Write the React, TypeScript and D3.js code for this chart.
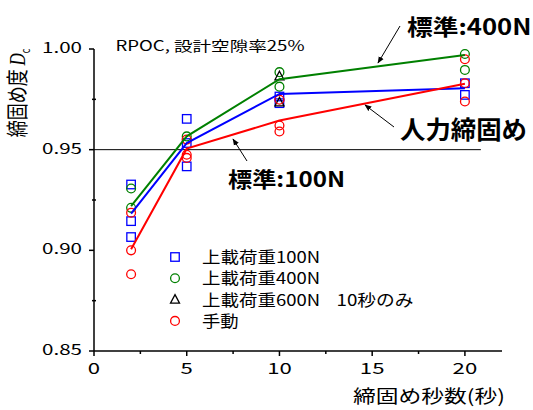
import React from "react";
import * as d3 from "d3";

// ---- data ----
const xTicks = [0, 5, 10, 15, 20];
const yTicks = [0.85, 0.9, 0.95, 1.0];
const meanX = [2, 5, 10, 20];
const blueMean = [0.9182, 0.9533, 0.9777, 0.9805];
const greenMean = [0.922, 0.9566, 0.985, 0.997];
const redMean = [0.9005, 0.9505, 0.9645, 0.9827];

const blueX = [2, 2, 2, 5, 5, 5, 10, 10, 20, 20];
const blueY = [0.9327, 0.9145, 0.9066, 0.9653, 0.9533, 0.9417, 0.9764, 0.9731, 0.983, 0.9772];
const greenX = [2, 2, 5, 10, 10, 20, 20];
const greenY = [0.9307, 0.9211, 0.9566, 0.9885, 0.9813, 0.9975, 0.9896];
const triX = [10, 10];
const triY = [0.9865, 0.9735];
const redX = [2, 2, 2, 5, 5, 5, 10, 10, 10, 20, 20, 20];
const redY = [0.9187, 0.9, 0.8881, 0.955, 0.9475, 0.9459, 0.9748, 0.962, 0.959, 0.9949, 0.983, 0.9739];

const legendLabels = ["上載荷重100N", "上載荷重400N", "上載荷重600N", "手動"];
const legendNote = "10秒のみ";

const FONT = "'Noto Sans CJK JP', 'Noto Sans', sans-serif";

export default function App() {
  const x = d3.scaleLinear().domain([0, 22]).range([94, 502]);
  const y = d3.scaleLinear().domain([0.85, 1.0]).range([351, 49]);
  const line = d3
    .line<[number, number]>()
    .x((d) => x(d[0]))
    .y((d) => y(d[1]));
  const mk = (vals: number[]) => meanX.map((v, i) => [v, vals[i]] as [number, number]);
  const xMinor = d3.range(2.5, 22, 5);
  const yMinor = [0.875, 0.925, 0.975];

  const sq = 8.5;
  const r = 4.4;
  const tri = (cx: number, cy: number, s = 9) =>
    `M${cx},${cy - s * 0.55} L${cx + s / 2},${cy + s * 0.4} L${cx - s / 2},${cy + s * 0.4} Z`;

  return (
    <svg
      width={533}
      height={410}
      style={{ position: "absolute", left: 0, top: 0, background: "#fff", fontFamily: FONT }}
    >
      <defs>
        <marker id="ah" viewBox="0 0 10 10" refX="9" refY="5" markerWidth="7" markerHeight="7" orient="auto">
          <path d="M0,1 L10,5 L0,9 Z" fill="#000" />
        </marker>
      </defs>
      <rect width={533} height={410} fill="#fff" />

      {/* axes */}
      <line x1={x(0)} x2={x(22)} y1={y(0.85)} y2={y(0.85)} stroke="#000" strokeWidth={1.5} />
      <line x1={x(0)} x2={x(0)} y1={y(0.85)} y2={y(1.0)} stroke="#000" strokeWidth={1.5} />
      {xTicks.map((t) => (
        <g key={"xt" + t}>
          <line x1={x(t)} x2={x(t)} y1={y(0.85)} y2={y(0.85) + 5} stroke="#000" strokeWidth={1.5} />
          <text
            x={x(t) - (String(t).length * 12.3) / 2}
            y={373.5}
            fontSize={15.5}
            fill="#000"
            textLength={String(t).length * 12.3}
            lengthAdjust="spacingAndGlyphs"
          >
            {t}
          </text>
        </g>
      ))}
      {xMinor.map((t) => (
        <line key={"xm" + t} x1={x(t)} x2={x(t)} y1={y(0.85)} y2={y(0.85) + 3} stroke="#000" strokeWidth={1.5} />
      ))}
      {yTicks.map((t) => (
        <g key={"yt" + t}>
          <line x1={x(0) - 5} x2={x(0)} y1={y(t)} y2={y(t)} stroke="#000" strokeWidth={1.5} />
          <text x={42} y={y(t) + 4} fontSize={14.5} fill="#000" textLength={40} lengthAdjust="spacingAndGlyphs">
            {t.toFixed(2)}
          </text>
        </g>
      ))}
      {yMinor.map((t) => (
        <line key={"ym" + t} x1={x(0) - 2} x2={x(0) + 2} y1={y(t)} y2={y(t)} stroke="#000" strokeWidth={1.5} />
      ))}

      {/* reference line */}
      <line x1={x(0)} x2={x(20.86)} y1={y(0.95)} y2={y(0.95)} stroke="#000" strokeWidth={1} />

      {/* markers */}
      {blueX.map((v, i) => (
        <rect key={"b" + i} x={x(v) - sq / 2} y={y(blueY[i]) - sq / 2} width={sq} height={sq} fill="none" stroke="#0000ff" strokeWidth={1.3} />
      ))}
      {greenX.map((v, i) => (
        <circle key={"g" + i} cx={x(v)} cy={y(greenY[i])} r={r} fill="none" stroke="#008000" strokeWidth={1.3} />
      ))}
      {triX.map((v, i) => (
        <path key={"t" + i} d={tri(x(v), y(triY[i]))} fill="none" stroke="#000" strokeWidth={1.3} />
      ))}
      {redX.map((v, i) => (
        <circle key={"r" + i} cx={x(v)} cy={y(redY[i])} r={r} fill="none" stroke="#ff0000" strokeWidth={1.3} />
      ))}

      {/* mean lines */}
      <path d={line(mk(greenMean)) || ""} fill="none" stroke="#008000" strokeWidth={2} />
      <path d={line(mk(blueMean)) || ""} fill="none" stroke="#0000ff" strokeWidth={2} />
      <path d={line(mk(redMean)) || ""} fill="none" stroke="#ff0000" strokeWidth={2} />

      {/* annotation text */}
      <text x={115.5} y={50.5} fontSize={14} fill="#000" textLength={189} lengthAdjust="spacingAndGlyphs">
        RPOC, 設計空隙率25%
      </text>
      <text x={407} y={35} fontSize={22} fontWeight={700} fill="#000" textLength={124.5} lengthAdjust="spacingAndGlyphs">
        標準:400N
      </text>
      <text x={228} y={187} fontSize={21} fontWeight={700} fill="#000" textLength={117} lengthAdjust="spacingAndGlyphs">
        標準:100N
      </text>
      <text x={400} y={139} fontSize={25} fontWeight={700} fill="#000" textLength={127} lengthAdjust="spacingAndGlyphs">
        人力締固め
      </text>
      <line x1={400} y1={26} x2={378} y2={63} stroke="#000" strokeWidth={1} markerEnd="url(#ah)" />
      <line x1={394} y1={127} x2={365} y2={105} stroke="#000" strokeWidth={1} markerEnd="url(#ah)" />
      <line x1={247} y1={161} x2={233} y2={139} stroke="#000" strokeWidth={1} markerEnd="url(#ah)" />

      {/* legend */}
      {legendLabels.map((lab, i) => {
        const cy = 257 + i * 21.3;
        const cx = 175;
        let m;
        if (i === 0) m = <rect x={cx - sq / 2} y={cy - sq / 2} width={sq} height={sq} fill="none" stroke="#0000ff" strokeWidth={1.3} />;
        else if (i === 1) m = <circle cx={cx} cy={cy} r={r} fill="none" stroke="#008000" strokeWidth={1.3} />;
        else if (i === 2) m = <path d={tri(cx, cy)} fill="none" stroke="#000" strokeWidth={1.3} />;
        else m = <circle cx={cx} cy={cy} r={r} fill="none" stroke="#ff0000" strokeWidth={1.3} />;
        const w = i === 3 ? 36.7 : 118;
        return (
          <g key={"l" + i}>
            {m}
            <text x={202} y={cy + 6} fontSize={15.5} fill="#000" textLength={w} lengthAdjust="spacingAndGlyphs">
              {lab}
            </text>
            {i === 2 && (
              <text x={336.5} y={cy + 6} fontSize={15.5} fill="#000" textLength={77} lengthAdjust="spacingAndGlyphs">
                {legendNote}
              </text>
            )}
          </g>
        );
      })}

      {/* axis titles */}
      <text x={353} y={403} fontSize={18} fill="#000" textLength={152} lengthAdjust="spacingAndGlyphs">
        締固め秒数(秒)
      </text>
      <g transform="translate(25,93) scale(1.3,1) rotate(-90)">
        <text x={0} y={0} textAnchor="middle" fontSize={17} fill="#000">
          締固め度 <tspan fontStyle="italic" fontFamily="'Liberation Serif', serif">D</tspan>
          <tspan fontSize={9} dy={4}>c</tspan>
        </text>
      </g>
    </svg>
  );
}
